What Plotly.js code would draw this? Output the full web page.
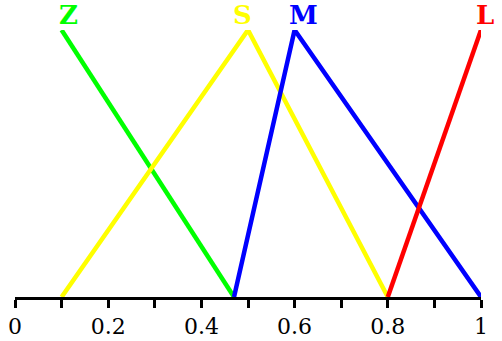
<!DOCTYPE html>
<html>
<head>
<meta charset="utf-8">
<script src="https://cdn.plot.ly/plotly-3.0.1.min.js"></script>
<style>
    html, body { margin: 0; padding: 0; background: #fff; }
    #chart { width: 502px; height: 341px; }
</style>
</head>
<body>
<div id="chart"></div>
<script>
'use strict';

// membership functions: x breakpoints and membership values
const names = ['Z', 'S', 'M', 'L'];
const colors = ['#00ff00', '#ffff00', '#0000ff', '#ff0000'];
const zX = [0.1, 0.47];
const zY = [1, 0];
const sX = [0.1, 0.5, 0.8];
const sY = [0, 1, 0];
const mX = [0.47, 0.6, 1];
const mY = [0, 1, 0];
const lX = [0.8, 1];
const lY = [0, 1];

// where each label sits (x of the peak)
const labelX = [0.1, 0.5, 0.6, 1];
const labelShift = [7, -6, 9, 4];

const tickVals = [0, 0.2, 0.4, 0.6, 0.8, 1];
const tickText = ['0', '0.2', '0.4', '0.6', '0.8', '1'];

const series = [
    [zX, zY],
    [sX, sY],
    [mX, mY],
    [lX, lY],
];

const data = series.map(([x, y], i) => ({
    x: x,
    y: y,
    name: names[i],
    type: 'scatter',
    mode: 'lines',
    line: { color: colors[i], width: 4.5 },
    cliponaxis: false,
    hoverinfo: 'none',
}));

const annotations = names.map((n, i) => ({
    text: n,
    x: labelX[i],
    xref: 'x',
    y: 1,
    yref: 'paper',
    yanchor: 'middle',
    xanchor: 'center',
    xshift: labelShift[i],
    yshift: 15,
    showarrow: false,
    font: {
        family: 'DejaVu Serif, serif',
        size: 26,
        weight: 'bold',
        color: colors[i],
    },
}));

const layout = {
    width: 502,
    height: 341,
    margin: { l: 15, r: 21, t: 30, b: 44 },
    paper_bgcolor: '#fff',
    plot_bgcolor: '#fff',
    showlegend: false,
    xaxis: {
        range: [0, 1],
        showgrid: false,
        zeroline: false,
        showline: true,
        linecolor: '#000',
        linewidth: 3,
        ticks: 'outside',
        tickvals: [0.1, 0.3, 0.5, 0.7, 0.9].concat(tickVals),
        ticktext: ['', '', '', '', ''].concat(tickText),
        ticklen: 8,
        tickwidth: 3,
        tickcolor: '#000',
        tickfont: { family: 'DejaVu Serif, serif', size: 22, color: '#000' },
        layer: 'below traces',
        fixedrange: true,
    },
    yaxis: {
        range: [0, 1],
        visible: false,
        fixedrange: true,
    },
    annotations: annotations,
};

Plotly.newPlot('chart', data, layout, { displayModeBar: false, staticPlot: true });
</script>
</body>
</html>
